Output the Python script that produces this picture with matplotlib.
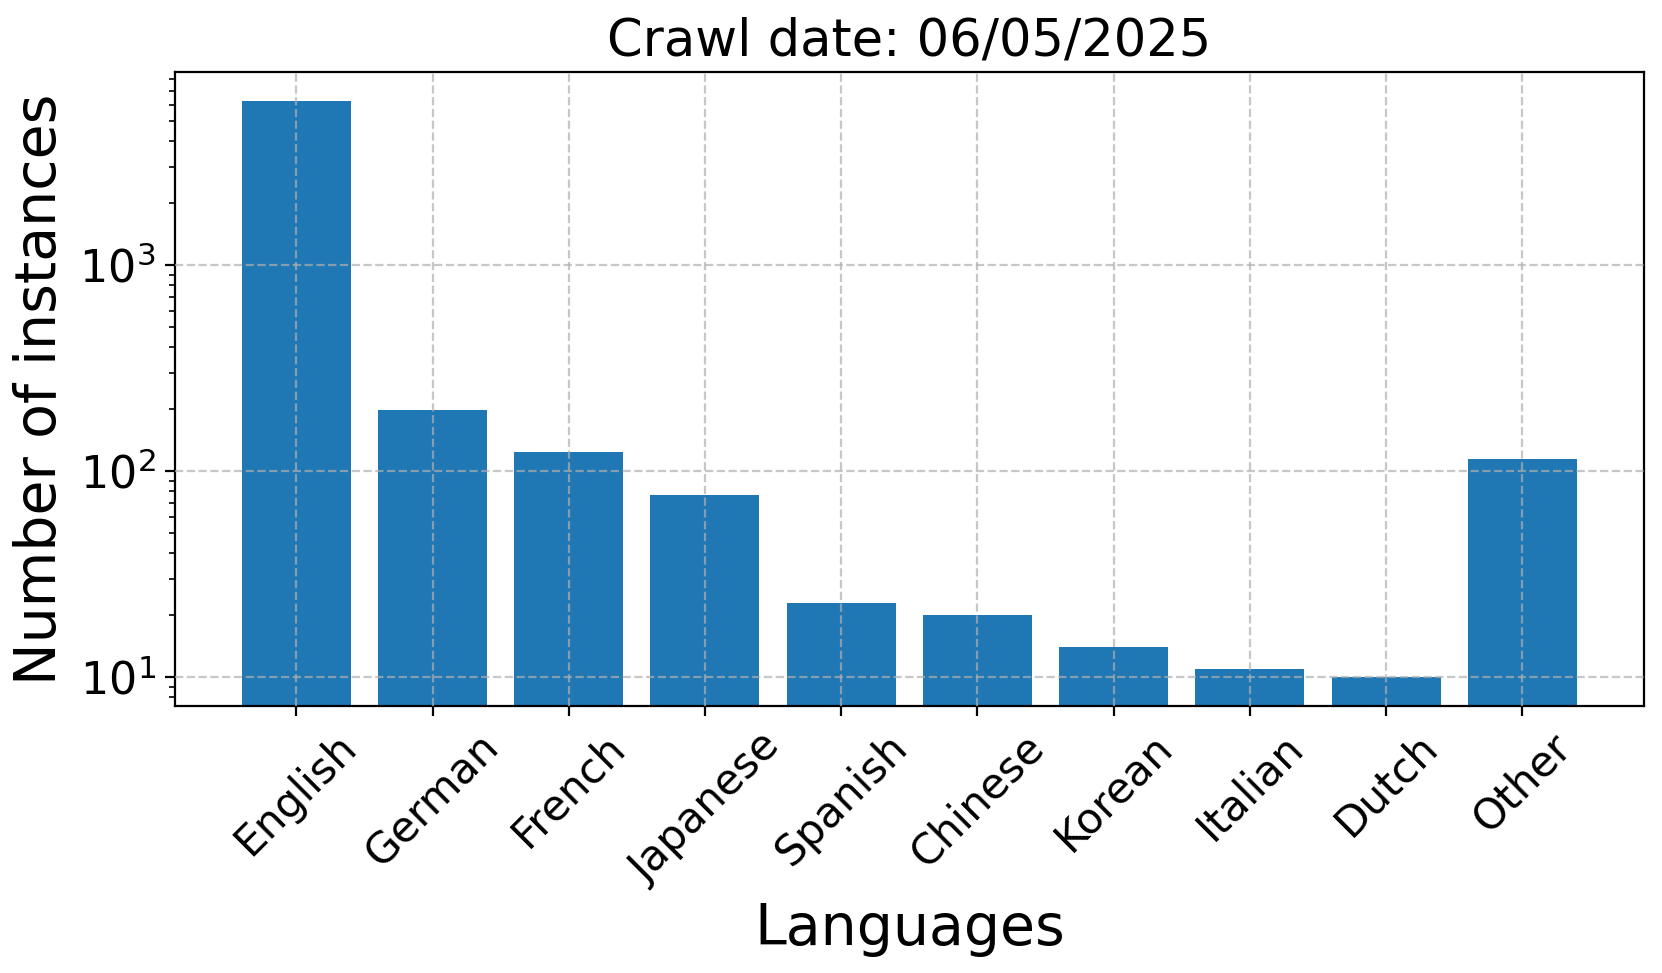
import numpy as np
import matplotlib.pyplot as plt

# language counts
languages = ['English', 'German', 'French', 'Japanese', 'Spanish',
             'Chinese', 'Korean', 'Italian', 'Dutch', 'Other']
counts = [6270, 197, 124, 77, 23, 20, 14, 11, 10, 115]
crawl_date = '06/05/2025'

fig, ax = plt.subplots(figsize=(8.31, 4.865), dpi=200)
fig.subplots_adjust(left=0.1053, right=0.989, bottom=0.2744, top=0.926)

ax.bar(languages, counts, color='#1f77b4')
ax.set_yscale('log')
ax.grid(True, linestyle='--', alpha=0.7)
ax.set_axisbelow(False)

ax.set_title('Crawl date: ' + crawl_date, fontsize=18.4)
ax.set_xlabel('Languages', fontsize=20.5)
ax.set_ylabel('Number of instances', fontsize=20.5)
ax.tick_params(axis='x', labelsize=15.2, rotation=45)
ax.tick_params(axis='y', labelsize=16)
for lbl in ax.get_xticklabels():
    lbl.set_ha('center')

plt.savefig('out.png', dpi=200)
